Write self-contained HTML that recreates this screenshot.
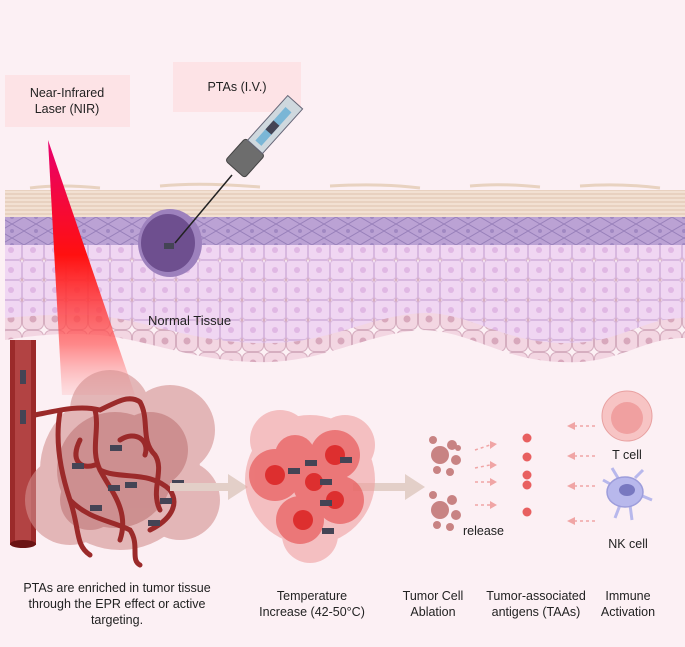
<!DOCTYPE html>
<html><head><meta charset="utf-8"><style>
body{margin:0;background:#fcf0f4;}
svg{display:block;font-family:"Liberation Sans",sans-serif;}
</style></head><body>
<svg width="685" height="647" viewBox="0 0 685 647" xmlns="http://www.w3.org/2000/svg">
<defs>
<linearGradient id="beam" x1="0" y1="0" x2="0" y2="1">
<stop offset="0" stop-color="#e8006e"/><stop offset="0.45" stop-color="#ff1010"/><stop offset="0.8" stop-color="#ff5a5a" stop-opacity="0.7"/><stop offset="1" stop-color="#ff9a9a" stop-opacity="0.2"/>
</linearGradient>
<pattern id="cells" width="22" height="20" patternUnits="userSpaceOnUse">
<rect x="0.5" y="0.5" width="21" height="19" rx="3" fill="#f0d6f2" stroke="#d8b8e0"/>
<circle cx="11" cy="10" r="3" fill="#e0b8e4"/>
</pattern>
<pattern id="pcells" width="22" height="22" patternUnits="userSpaceOnUse">
<rect x="0.5" y="0.5" width="21" height="21" rx="6" fill="#f3d6e2" stroke="#d6aec0"/>
<circle cx="11" cy="11" r="3.5" fill="#d8a8bc"/>
</pattern>
<pattern id="fib" width="40" height="4" patternUnits="userSpaceOnUse">
<rect width="40" height="4" fill="#f2e0d2"/><line x1="0" y1="2" x2="40" y2="2" stroke="#ddc2ae" stroke-width="1"/>
</pattern>
<pattern id="purp" width="24" height="14" patternUnits="userSpaceOnUse">
<rect width="24" height="14" fill="#bba2d4"/><path d="M0 7 L12 0 L24 7 L12 14Z" fill="none" stroke="#9880ba"/><circle cx="12" cy="7" r="2" fill="#a088c2"/>
</pattern>
</defs>
<rect width="685" height="647" fill="#fcf0f4"/>
<path d="M5 360 L5 330 C100 325 200 330 300 330 L685 330 L685 338 C640 338 620 365 560 362 C500 360 470 330 420 330 C370 332 330 360 270 362 C200 364 150 340 100 335 C60 332 30 336 5 340Z" fill="url(#pcells)"/>
<path d="M5 245 L685 245 L685 335 C640 335 620 362 560 360 C500 358 470 330 425 330 C370 332 330 360 270 360 C200 362 150 338 100 333 C60 330 30 333 5 335Z" fill="url(#pcells)"/>
<path d="M5 245 L685 245 L685 318 C640 318 620 345 560 343 C500 341 470 313 425 313 C370 315 330 343 270 343 C200 345 150 321 100 316 C60 313 30 316 5 318Z" fill="url(#cells)"/>
<rect x="5" y="190" width="680" height="28" fill="url(#fib)"/>
<path d="M30 188 Q60 184 100 188 M160 186 Q200 182 260 187 M330 186 Q380 183 420 188 M470 186 Q500 183 540 187 M580 186 Q620 183 660 188" stroke="#e8d2c0" stroke-width="3" fill="none"/>
<rect x="5" y="217" width="680" height="28" fill="url(#purp)"/>
<text x="148" y="325" font-size="13" fill="#222">Normal Tissue</text>
<ellipse cx="170" cy="243" rx="32" ry="34" fill="#9d81bd"/>
<ellipse cx="168" cy="243" rx="27" ry="29" fill="#6e4f8f"/>
<rect x="164" y="243" width="10" height="6" fill="#445"/>
<polygon points="48,140 62,395 135,395" fill="url(#beam)"/>
<rect x="5" y="75" width="125" height="52" fill="#fde3e6"/>
<text x="67" y="97" font-size="12.5" text-anchor="middle" fill="#222">Near-Infrared</text>
<text x="67" y="113" font-size="12.5" text-anchor="middle" fill="#222">Laser (NIR)</text>
<rect x="173" y="62" width="128" height="50" fill="#fde3e6"/>
<text x="237" y="91" font-size="12.5" text-anchor="middle" fill="#222">PTAs (I.V.)</text>
<line x1="232" y1="175" x2="175" y2="243" stroke="#222" stroke-width="1.5"/>
<g transform="translate(245,158) rotate(-48)">
<rect x="-15" y="-13" width="30" height="26" rx="3" fill="#6d6d6d" stroke="#444"/>
<rect x="15" y="-10" width="60" height="20" fill="#cfd8de" stroke="#667"/>
<rect x="20" y="-4" width="45" height="8" fill="#7ab6d6"/>
<rect x="35" y="-4" width="12" height="8" fill="#445"/>
</g>
<rect x="10" y="340" width="26" height="205" fill="#9b2a2a"/>
<rect x="15" y="340" width="16" height="205" fill="#b24343"/>
<ellipse cx="23" cy="544" rx="13" ry="4" fill="#6b1414"/>
<rect x="20" y="370" width="6" height="14" fill="#445"/><rect x="20" y="410" width="6" height="14" fill="#445"/>
<g fill="#d49090" opacity="0.6">
<circle cx="120" cy="470" r="80"/><circle cx="170" cy="430" r="45"/><circle cx="70" cy="500" r="45"/><circle cx="180" cy="500" r="40"/><circle cx="110" cy="410" r="40"/>
</g>
<g fill="#b86a6a" opacity="0.5"><circle cx="115" cy="470" r="58"/><circle cx="150" cy="450" r="38"/><circle cx="90" cy="500" r="30"/></g>
<g fill="none" stroke="#9b2a2a" stroke-width="5" stroke-linecap="round">
<path d="M35 415 C60 410 80 405 100 410 C120 400 130 395 140 402"/>
<path d="M60 412 C55 440 60 470 70 500 C80 530 75 545 90 555"/>
<path d="M95 410 C100 430 90 450 100 470 C110 490 130 510 120 540"/>
<path d="M140 402 C150 420 140 440 155 455 C165 470 150 490 160 510"/>
<path d="M100 470 C120 480 150 470 170 490 C180 505 170 520 150 530"/>
<path d="M70 500 C90 520 110 520 130 530 C140 545 130 560 140 565"/>
<path d="M120 440 C135 430 150 440 145 455"/>
<path d="M80 440 C70 460 80 470 95 465"/>
</g>
<g fill="#445"><rect x="72" y="463" width="12" height="6"/><rect x="108" y="485" width="12" height="6"/><rect x="125" y="482" width="12" height="6"/><rect x="90" y="505" width="12" height="6"/><rect x="148" y="520" width="12" height="6"/><rect x="172" y="480" width="12" height="6"/><rect x="160" y="498" width="12" height="6"/><rect x="110" y="445" width="12" height="6"/></g>
<polygon points="170,483 228,483 228,474 248,487 228,500 228,491 170,491" fill="#e3cfc8"/>
<polygon points="353,483 405,483 405,474 425,487 405,500 405,491 353,491" fill="#e3cfc8"/>
<g fill="#f0a0a0" opacity="0.6"><circle cx="310" cy="480" r="65"/><circle cx="280" cy="440" r="30"/><circle cx="345" cy="445" r="30"/><circle cx="310" cy="535" r="28"/></g>
<g fill="#e86060" opacity="0.75"><circle cx="275" cy="475" r="26"/><circle cx="335" cy="455" r="25"/><circle cx="315" cy="485" r="22"/><circle cx="340" cy="500" r="24"/><circle cx="300" cy="520" r="24"/><circle cx="295" cy="455" r="20"/></g>
<g fill="#dd2f2f"><circle cx="275" cy="475" r="10"/><circle cx="335" cy="455" r="10"/><circle cx="314" cy="482" r="9"/><circle cx="335" cy="500" r="9"/><circle cx="303" cy="520" r="10"/></g>
<g fill="#445"><rect x="288" y="468" width="12" height="6"/><rect x="320" y="479" width="12" height="6"/><rect x="340" y="457" width="12" height="6"/><rect x="305" y="460" width="12" height="6"/><rect x="320" y="500" width="12" height="6"/><rect x="322" y="528" width="12" height="6"/></g>
<g fill="#c07070" opacity="0.85">
<circle cx="440" cy="455" r="9"/><circle cx="452" cy="445" r="5"/><circle cx="433" cy="440" r="4"/><circle cx="456" cy="460" r="5"/><circle cx="437" cy="470" r="4"/><circle cx="450" cy="472" r="4"/><circle cx="458" cy="448" r="3"/>
<circle cx="440" cy="510" r="9"/><circle cx="452" cy="500" r="5"/><circle cx="433" cy="495" r="4"/><circle cx="456" cy="515" r="5"/><circle cx="437" cy="525" r="4"/><circle cx="450" cy="527" r="4"/>
</g>
<g stroke="#f0a5a5" stroke-width="1.5" stroke-dasharray="3,3" fill="none">
<line x1="475" y1="450" x2="490" y2="445"/><line x1="475" y1="468" x2="490" y2="465"/><line x1="475" y1="482" x2="490" y2="482"/><line x1="475" y1="505" x2="490" y2="505"/>
<line x1="595" y1="426" x2="575" y2="426"/><line x1="595" y1="456" x2="575" y2="456"/><line x1="595" y1="486" x2="575" y2="486"/><line x1="595" y1="521" x2="575" y2="521"/>
</g>
<g fill="#f0a5a5"><polygon points="490,441 497,444 490,449"/><polygon points="490,461 497,465 490,469"/><polygon points="490,478 497,482 490,486"/><polygon points="490,501 497,505 490,509"/>
<polygon points="575,422 567,426 575,430"/><polygon points="575,452 567,456 575,460"/><polygon points="575,482 567,486 575,490"/><polygon points="575,517 567,521 575,525"/></g>
<text x="463" y="535" font-size="12.5" fill="#222">release</text>
<g fill="#e86060"><circle cx="527" cy="438" r="4.5"/><circle cx="527" cy="457" r="4.5"/><circle cx="527" cy="475" r="4.5"/><circle cx="527" cy="485" r="4.5"/><circle cx="527" cy="512" r="4.5"/></g>
<circle cx="627" cy="416" r="25" fill="#f7c4c4" stroke="#e8a0a0"/>
<circle cx="627" cy="418" r="16" fill="#f0a0a0"/>
<text x="627" y="459" font-size="12.5" text-anchor="middle" fill="#222">T cell</text>
<g fill="#b8b8ec" stroke="#9d9ddb" stroke-width="1.5">
<path d="M612 485 L603 480 M635 478 L643 470 M640 495 L652 500 M620 505 L615 518 M630 505 L632 520 M618 478 L612 468" stroke-width="3" stroke="#b8b8ec"/>
<ellipse cx="625" cy="492" rx="18" ry="15"/>
</g>
<ellipse cx="627" cy="490" rx="8" ry="6" fill="#7878c0"/>
<text x="628" y="548" font-size="12.5" text-anchor="middle" fill="#222">NK cell</text>
<g font-size="12.5" fill="#222" text-anchor="middle">
<text x="117" y="592">PTAs are enriched in tumor tissue</text>
<text x="117" y="608">through the EPR effect or active</text>
<text x="117" y="624">targeting.</text>
<text x="312" y="600">Temperature</text>
<text x="312" y="616">Increase (42-50°C)</text>
<text x="433" y="600">Tumor Cell</text>
<text x="433" y="616">Ablation</text>
<text x="536" y="600">Tumor-associated</text>
<text x="536" y="616">antigens (TAAs)</text>
<text x="628" y="600">Immune</text>
<text x="628" y="616">Activation</text>
</g>
</svg>
</body></html>
